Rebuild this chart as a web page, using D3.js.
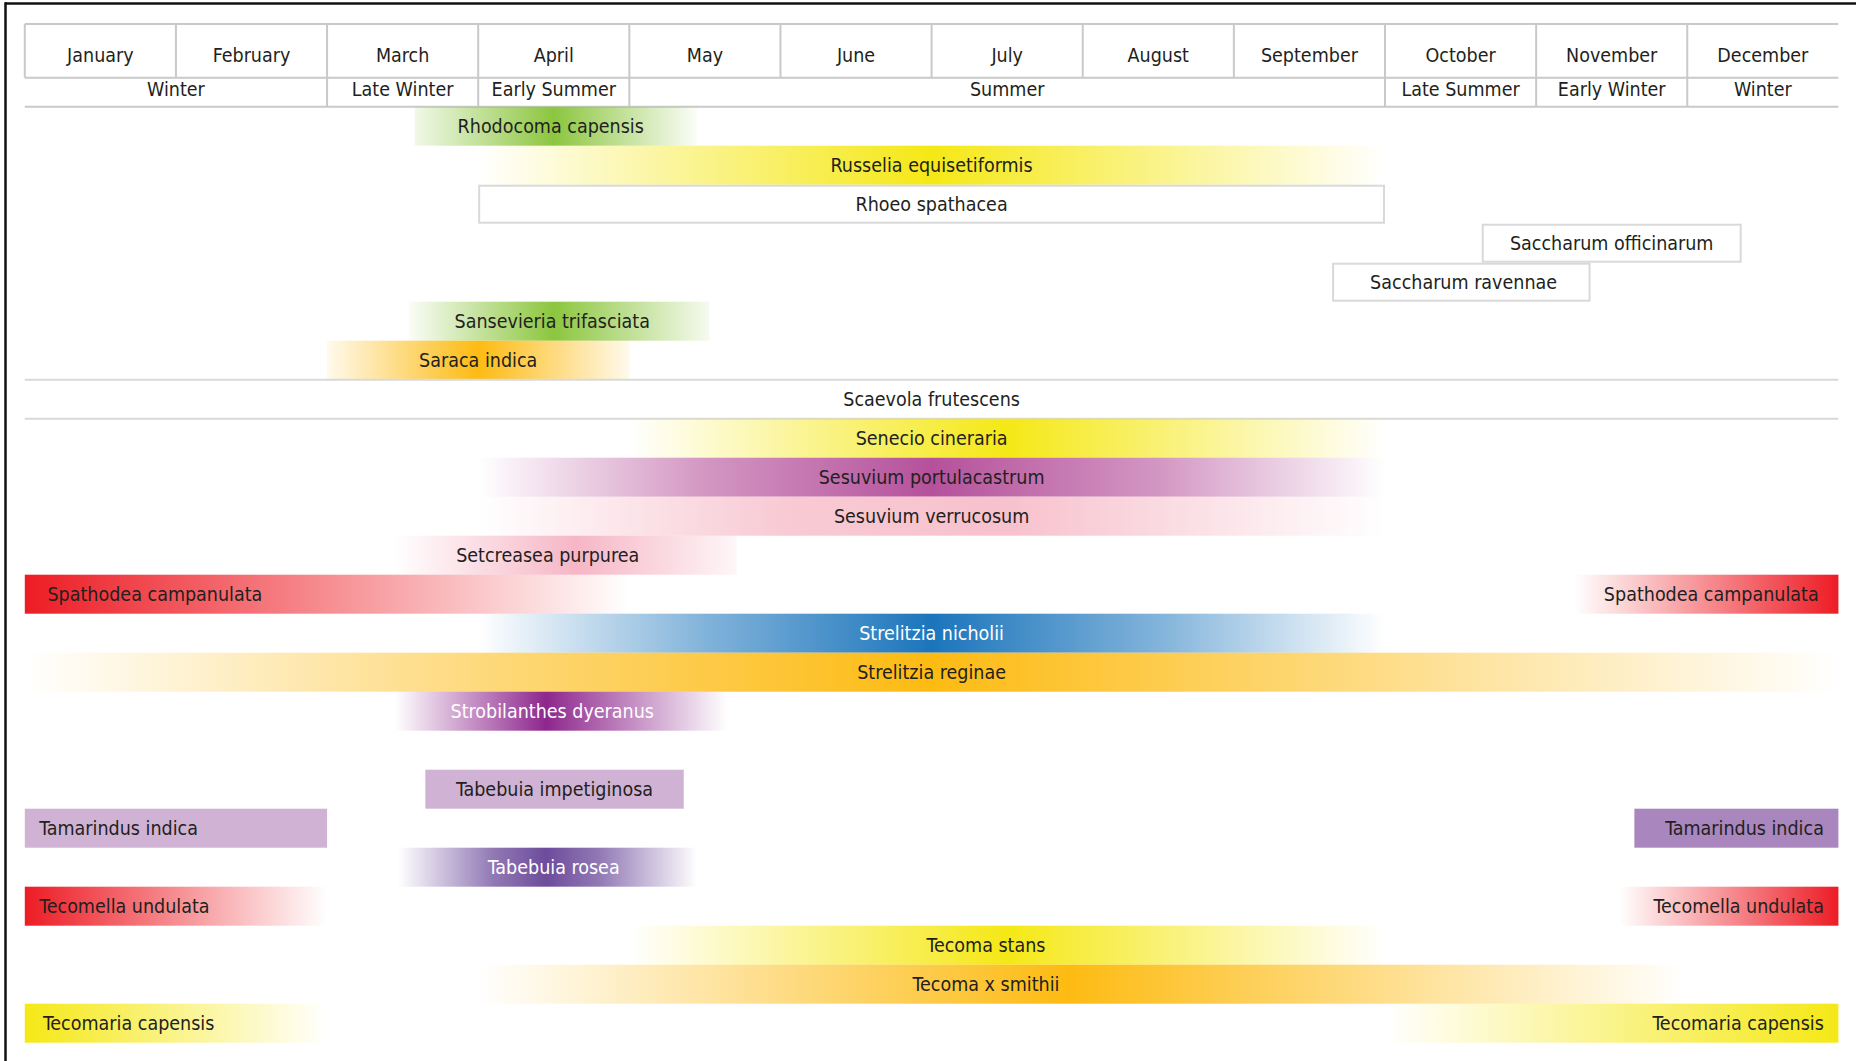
<!DOCTYPE html>
<html>
<head>
<meta charset="utf-8">
<script src="https://cdn.jsdelivr.net/npm/d3@7"></script>
<style>
  html, body { margin: 0; padding: 0; background: #fff; }
  .chart text {
    font-family: "DejaVu Sans Condensed", "DejaVu Sans", sans-serif;
    font-stretch: condensed;
    font-size: 19.5px;
    fill: #231f20;
  }
</style>
</head>
<body>
<svg class="chart"></svg>
<script>
// months and seasons of the header
var months = ["January", "February", "March", "April", "May", "June",
              "July", "August", "September", "October", "November", "December"];
var seasons = ["Winter", "Late Winter", "Early Summer", "Summer", "Late Summer", "Early Winter", "Winter"];
var seasonBounds = [0, 2, 3, 4, 9, 10, 11, 12];

// one entry per row, "" is the empty row
var plants = ["Rhodocoma capensis", "Russelia equisetiformis", "Rhoeo spathacea",
              "Saccharum officinarum", "Saccharum ravennae", "Sansevieria trifasciata",
              "Saraca indica", "Scaevola frutescens", "Senecio cineraria",
              "Sesuvium portulacastrum", "Sesuvium verrucosum", "Setcreasea purpurea",
              "Spathodea campanulata", "Strelitzia nicholii", "Strelitzia reginae",
              "Strobilanthes dyeranus", "", "Tabebuia impetiginosa", "Tamarindus indica",
              "Tabebuia rosea", "Tecomella undulata", "Tecoma stans", "Tecoma x smithii",
              "Tecomaria capensis"];

var hues = {
  green: "#8cc63f", yellow: "#f5e816", amber: "#fdbb12", magenta: "#b5519b",
  pink: "#f7c1cd", rose: "#f6b6c6", red: "#ed1c24", blue: "#1b75bc",
  purple: "#8e278d", violet: "#6d4c9c", lilac: "#d0b2d4", mauve: "#a986bd"
};

// flowering: [month, intensity] stops, month 0 = 1 January, 12 = 31 December
var segments = [
  {plant: "Rhodocoma capensis", hue: "green", stops: [[2.58, 0.12], [3.5, 1], [4.45, 0.03]], labelAt: 3.48},
  {plant: "Russelia equisetiformis", hue: "yellow", stops: [[3, 0], [6, 1], [9, 0]]},
  {plant: "Rhoeo spathacea", kind: "outline", stops: [[3, 0], [9, 0]]},
  {plant: "Saccharum officinarum", kind: "outline", stops: [[9.64, 0], [11.36, 0]]},
  {plant: "Saccharum ravennae", kind: "outline", stops: [[8.65, 0], [10.36, 0]], labelAt: 9.52},
  {plant: "Sansevieria trifasciata", hue: "green", stops: [[2.54, 0.04], [3.5, 1], [4.53, 0.08]], labelAt: 3.49},
  {plant: "Saraca indica", hue: "amber", stops: [[2, 0.08], [3, 1], [4, 0.08]]},
  {plant: "Scaevola frutescens", kind: "rule", stops: [[0, 0], [12, 0]]},
  {plant: "Senecio cineraria", hue: "yellow", stops: [[4, 0], [6.5, 1], [9, 0]], labelAt: 6},
  {plant: "Sesuvium portulacastrum", hue: "magenta", stops: [[3, 0], [4.5, 0.6], [6, 1], [7.5, 0.6], [9, 0]]},
  {plant: "Sesuvium verrucosum", hue: "pink", stops: [[3, 0], [5, 0.85], [6.5, 1], [9, 0]]},
  {plant: "Setcreasea purpurea", hue: "rose", stops: [[2.44, 0], [3.65, 1], [4.71, 0.12]], labelAt: 3.46},
  {plant: "Spathodea campanulata", hue: "red", stops: [[0, 1], [4, 0]], labelAt: 0.15},
  {plant: "Spathodea campanulata", hue: "red", stops: [[10.25, 0], [12, 1]], labelAt: 11.87},
  {plant: "Strelitzia nicholii", hue: "blue", stops: [[3, 0], [4.5, 0.55], [6, 1], [7.5, 0.55], [9, 0]], light: true},
  {plant: "Strelitzia reginae", hue: "amber", stops: [[0, 0], [3, 0.55], [6, 1], [9, 0.5], [12, 0]]},
  {plant: "Strobilanthes dyeranus", hue: "purple", stops: [[2.45, 0], [3.45, 1], [4.65, 0]], labelAt: 3.49, light: true},
  {plant: "Tabebuia impetiginosa", hue: "lilac", stops: [[2.65, 1], [4.36, 1]]},
  {plant: "Tamarindus indica", hue: "lilac", stops: [[0, 1], [2, 1]]},
  {plant: "Tamarindus indica", hue: "mauve", stops: [[10.65, 1], [12, 1]]},
  {plant: "Tabebuia rosea", hue: "violet", stops: [[2.47, 0], [3.1, 0.75], [3.45, 1], [3.8, 0.75], [4.45, 0]], labelAt: 3.5, light: true},
  {plant: "Tecomella undulata", hue: "red", stops: [[0, 1], [2, 0]]},
  {plant: "Tecomella undulata", hue: "red", stops: [[10.55, 0], [12, 1]]},
  {plant: "Tecoma stans", hue: "yellow", stops: [[4, 0], [6.5, 1], [9, 0]], labelAt: 6.36},
  {plant: "Tecoma x smithii", hue: "amber", stops: [[3, 0], [6.9, 1], [11, 0]], labelAt: 6.36},
  {plant: "Tecomaria capensis", hue: "yellow", stops: [[0, 1], [2, 0]], labelAt: 0.12},
  {plant: "Tecomaria capensis", hue: "yellow", stops: [[9, 0], [12, 1]]}
];

function show() {
  'use strict';
  var width = 1856, height = 1061;
  var top = 24, monthH = 53.7, seasonH = 29, rowH = 39, pad = 14.5;
  var bodyTop = top + monthH + seasonH;
  var grid = "#c9c9c9", box = "#d9d9d9";

  var svg = d3.select(".chart")
      .attr("width", width)
      .attr("height", height);

  var x = d3.scaleLinear().domain([0, 12]).range([24.8, 1838.4]);
  var y = d3.scaleBand()
      .domain(d3.range(plants.length))
      .range([bodyTop, bodyTop + plants.length * rowH]);

  // frame
  svg.append("line").attr("x1", 5).attr("x2", width).attr("y1", 3.5).attr("y2", 3.5)
      .attr("stroke", "#111").attr("stroke-width", 2.5);
  svg.append("line").attr("x1", 5.5).attr("x2", 5.5).attr("y1", 2.3).attr("y2", height)
      .attr("stroke", "#111").attr("stroke-width", 2.5);

  // header
  var head = svg.append("g");
  [top, top + monthH, bodyTop].forEach(function(yy) {
    head.append("line").attr("x1", x(0)).attr("x2", x(12)).attr("y1", yy).attr("y2", yy)
        .attr("stroke", grid).attr("stroke-width", 2);
  });
  head.selectAll(".mline").data(d3.range(12)).enter().append("line")
      .attr("x1", x).attr("x2", x)
      .attr("y1", top).attr("y2", top + monthH)
      .attr("stroke", grid).attr("stroke-width", 2);
  head.selectAll(".mtext").data(months).enter().append("text")
      .attr("x", function(d, i) { return x(i + 0.5); })
      .attr("y", top + 38)
      .attr("text-anchor", "middle")
      .text(function(d) { return d; });
  head.selectAll(".sline").data(seasonBounds.slice(1, -1)).enter().append("line")
      .attr("x1", x).attr("x2", x)
      .attr("y1", top + monthH).attr("y2", bodyTop)
      .attr("stroke", grid).attr("stroke-width", 2);
  head.selectAll(".stext").data(seasons).enter().append("text")
      .attr("x", function(d, i) { return x((seasonBounds[i] + seasonBounds[i + 1]) / 2); })
      .attr("y", top + monthH + 18)
      .attr("text-anchor", "middle")
      .text(function(d) { return d; });

  // gradients
  var defs = svg.append("defs");
  segments.forEach(function(s, i) {
    s.id = i;
    s.start = s.stops[0][0];
    s.end = s.stops[s.stops.length - 1][0];
    s.row = plants.indexOf(s.plant);
    if (s.kind) return;
    var g = defs.append("linearGradient")
        .attr("id", "grad-" + i)
        .attr("gradientUnits", "userSpaceOnUse")
        .attr("x1", x(s.start)).attr("x2", x(s.end))
        .attr("y1", 0).attr("y2", 0);
    g.selectAll("stop").data(s.stops).enter().append("stop")
        .attr("offset", function(d) { return (d[0] - s.start) / (s.end - s.start); })
        .attr("stop-color", hues[s.hue])
        .attr("stop-opacity", function(d) { return d[1]; });
  });

  var bars = svg.append("g").selectAll("g").data(segments).enter().append("g");

  bars.filter(function(s) { return !s.kind; }).append("rect")
      .attr("x", function(s) { return x(s.start); })
      .attr("width", function(s) { return x(s.end) - x(s.start); })
      .attr("y", function(s) { return y(s.row); })
      .attr("height", y.bandwidth())
      .attr("fill", function(s) { return "url(#grad-" + s.id + ")"; });

  bars.filter(function(s) { return s.kind === "outline"; }).append("rect")
      .attr("x", function(s) { return x(s.start) + 1; })
      .attr("width", function(s) { return x(s.end) - x(s.start) - 2; })
      .attr("y", function(s) { return y(s.row) + 1; })
      .attr("height", y.bandwidth() - 2)
      .attr("fill", "#fff")
      .attr("stroke", box).attr("stroke-width", 2);

  var rules = bars.filter(function(s) { return s.kind === "rule"; });
  [0, 1].forEach(function(k) {
    rules.append("line")
        .attr("x1", function(s) { return x(s.start); })
        .attr("x2", function(s) { return x(s.end); })
        .attr("y1", function(s) { return y(s.row) + k * y.bandwidth(); })
        .attr("y2", function(s) { return y(s.row) + k * y.bandwidth(); })
        .attr("stroke", box).attr("stroke-width", 2);
  });

  function anchor(s) {
    if (s.start === 0 && s.end !== 12) return "start";
    if (s.end === 12 && s.start !== 0) return "end";
    return "middle";
  }

  bars.append("text")
      .attr("x", function(s) {
        if (s.labelAt !== undefined) return x(s.labelAt);
        var a = anchor(s);
        if (a === "start") return x(s.start) + pad;
        if (a === "end") return x(s.end) - pad;
        return x((s.start + s.end) / 2);
      })
      .attr("y", function(s) { return y(s.row) + 26.3; })
      .attr("text-anchor", anchor)
      .style("fill", function(s) { return s.light ? "#fff" : null; })
      .text(function(s) { return s.plant; });
}
show();
</script>
</body>
</html>
